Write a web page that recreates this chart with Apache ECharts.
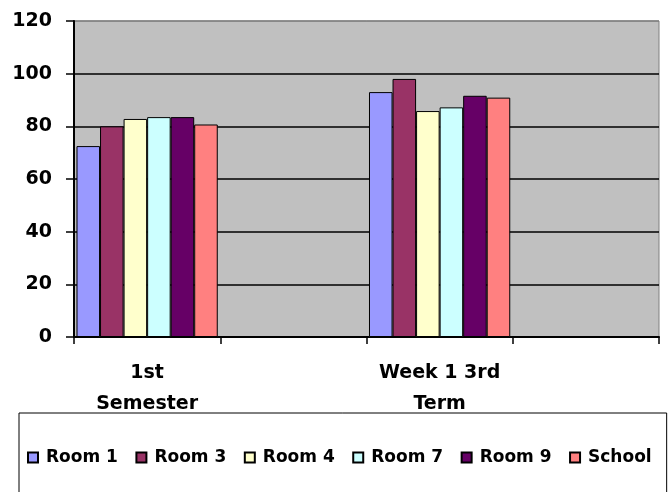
<!DOCTYPE html>
<html>
<head>
<meta charset="utf-8">
<script src="https://cdn.jsdelivr.net/npm/echarts@6/dist/echarts.min.js"></script>
<style>
    html, body { margin: 0; padding: 0; background: #fff; }
    #chart { width: 670px; height: 492px; }
</style>
</head>
<body>
<div id="chart"></div>
<script>
// 类别（含两个空槽位）
const categories = ['1st Semester', '', 'Week 1 3rd Term', ''];
const seriesNames = ['Room 1', 'Room 3', 'Room 4', 'Room 7', 'Room 9', 'School'];
const room1 = [72.5, null, 93, null];
const room3 = [80, null, 98, null];
const room4 = [82.8, null, 85.8, null];
const room7 = [83.5, null, 87.2, null];
const room9 = [83.5, null, 91.6, null];
const school = [80.7, null, 90.9, null];
const yTicks = [0, 20, 40, 60, 80, 100, 120];

const seriesData = [room1, room3, room4, room7, room9, school];
const colors = ['#9999FF', '#993366', '#FFFFCC', '#CCFFFF', '#660066', '#FF8080'];
const font = 'DejaVu Sans';

const myChart = echarts.init(document.getElementById('chart'));

const option = {
    animation: false,
    legend: {
        data: seriesNames,
        left: 19,
        top: 413,
        width: 640,
        padding: [36, 15, 40, 8],
        borderColor: '#000',
        borderWidth: 1,
        itemWidth: 10,
        itemHeight: 10,
        itemGap: 17.5,
        icon: 'rect',
        textStyle: {
            fontFamily: font,
            fontWeight: 'bold',
            fontSize: 17,
            color: '#000',
            padding: [0, 0, 0, 3]
        }
    },
    grid: {
        left: 74,
        top: 21,
        width: 585,
        height: 316,
        show: true,
        backgroundColor: '#C0C0C0',
        borderColor: '#808080',
        borderWidth: 1
    },
    xAxis: {
        type: 'category',
        data: categories,
        axisLine: { lineStyle: { color: '#000', width: 2 } },
        axisTick: { show: true, interval: 0, length: 7, lineStyle: { color: '#000', width: 1.5 } },
        axisLabel: {
            interval: 0,
            margin: 21,
            lineHeight: 31,
            fontFamily: font,
            fontWeight: 'bold',
            fontSize: 19,
            color: '#000',
            formatter: function(v) {
                const i = v.lastIndexOf(' ');
                return i > 0 ? v.slice(0, i) + '\n' + v.slice(i + 1) : v;
            }
        }
    },
    yAxis: {
        type: 'value',
        min: yTicks[0],
        max: yTicks[yTicks.length - 1],
        interval: 20,
        axisLine: { show: true, lineStyle: { color: '#000', width: 2 } },
        axisTick: { show: true, length: 8, lineStyle: { color: '#000', width: 1.5 } },
        axisLabel: {
            margin: 22,
            fontFamily: font,
            fontWeight: 'bold',
            fontSize: 19,
            color: '#000'
        },
        splitLine: {
            lineStyle: {
                color: ['#000', '#000', '#000', '#000', '#000', '#000', '#808080'],
                width: 1.5
            }
        }
    },
    series: seriesNames.map((name, i) => ({
        name: name,
        type: 'bar',
        data: seriesData[i],
        barGap: '0%',
        barCategoryGap: '3.4%',
        itemStyle: {
            color: colors[i],
            borderColor: '#000',
            borderWidth: 1
        }
    }))
};

myChart.setOption(option);
</script>
</body>
</html>
